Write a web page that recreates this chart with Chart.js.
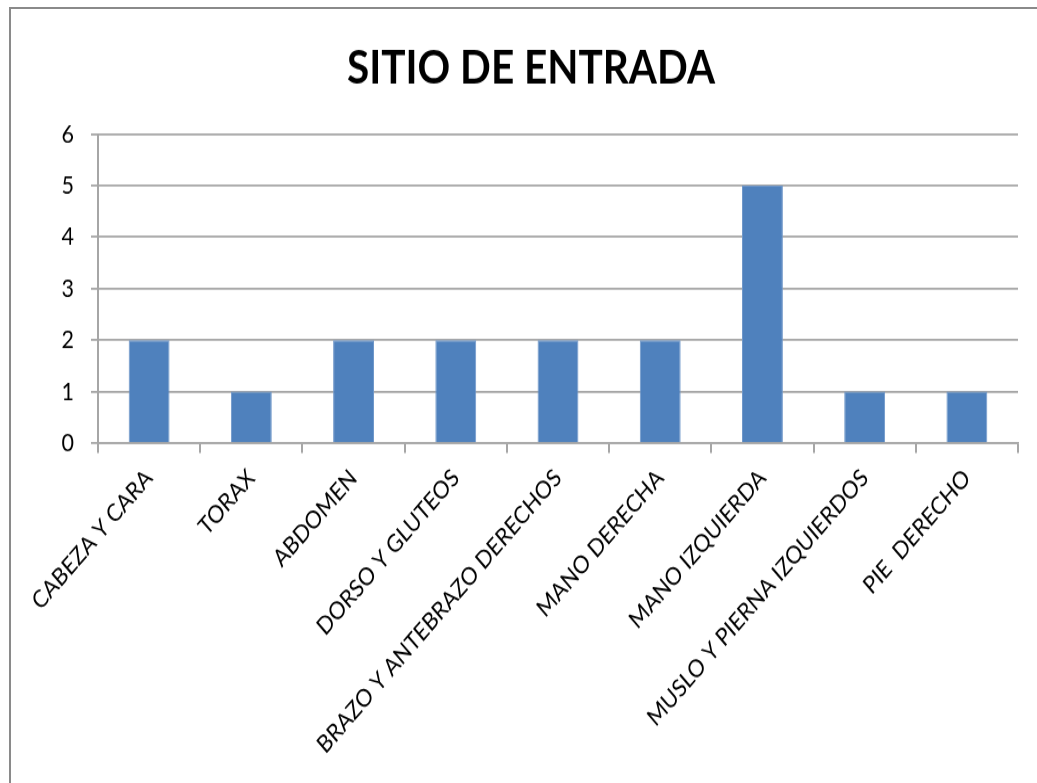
<!DOCTYPE html>
<html>
<head>
<meta charset="utf-8">
<script src="https://cdn.jsdelivr.net/npm/chart.js@4"></script>
<style>
  html, body { margin: 0; padding: 0; background: #fff; overflow: hidden; }
  #wrap { position: relative; width: 1037px; height: 783px; overflow: hidden; }
  #frame { position: absolute; left: 9px; top: 7px; width: 1040px; height: 790px;
           border-left: 2px solid #8a8a8a; border-top: 2px solid #8a8a8a; pointer-events: none; }
  #stretch { position: absolute; left: 0; top: 0; width: 1037px; height: 675px;
             transform: scaleY(1.16); transform-origin: 0 0; }
</style>
</head>
<body>
<div id="wrap">
  <div id="stretch"><canvas id="c" width="1037" height="675"></canvas></div>
  <div id="frame"></div>
</div>
<script>
const titleText = "SITIO DE ENTRADA";
const categories = [
  "CABEZA Y CARA",
  "TORAX",
  "ABDOMEN",
  "DORSO Y GLUTEOS",
  "BRAZO Y ANTEBRAZO DERECHOS",
  "MANO DERECHA",
  "MANO IZQUIERDA",
  "MUSLO Y PIERNA IZQUIERDOS",
  "PIE  DERECHO"
];
const values = [2, 1, 2, 2, 2, 2, 5, 1, 1];
const yTicks = [0, 1, 2, 3, 4, 5, 6];

const gridColor = "#a6a6a6";
const fontFam = "Lato, 'Open Sans', sans-serif";

new Chart(document.getElementById("c"), {
  type: "bar",
  data: {
    labels: categories,
    datasets: [{
      data: values,
      backgroundColor: "#4F81BD",
      borderColor: "#6f97c9",
      borderWidth: 1,
      categoryPercentage: 1.0,
      barPercentage: 0.4
    }]
  },
  options: {
    responsive: false,
    animation: false,
    layout: { padding: { left: 44, right: 19, top: 0, bottom: 0 } },
    plugins: {
      legend: { display: false },
      tooltip: { enabled: false },
      title: {
        display: true,
        text: titleText,
        color: "#000",
        font: { family: fontFam, size: 40.5, weight: "bold", lineHeight: 1.2 },
        padding: { top: 34.5, bottom: 32.5 }
      }
    },
    scales: {
      x: {
        offset: true,
        grid: {
          offset: true,
          drawOnChartArea: false,
          drawTicks: true,
          tickLength: 8.6,
          color: gridColor,
          lineWidth: 2
        },
        border: { display: true, color: gridColor, width: 1.8 },
        ticks: {
          color: "#000",
          font: { family: fontFam, size: 21 },
          maxRotation: 45,
          minRotation: 45,
          autoSkip: false,
          padding: 9
        },
        afterFit: (s) => { s.height = 293; }
      },
      y: {
        min: 0,
        max: 6,
        afterBuildTicks: (s) => { s.ticks = yTicks.map(v => ({ value: v })); },
        grid: {
          color: gridColor,
          lineWidth: 1.8,
          tickLength: 7,
          drawTicks: true
        },
        border: { display: true, color: gridColor, width: 2 },
        ticks: {
          color: "#000",
          font: { family: fontFam, size: 21.5 },
          padding: 17
        },
        afterFit: (s) => { s.width = 54; }
      }
    }
  }
});
</script>
</body>
</html>
